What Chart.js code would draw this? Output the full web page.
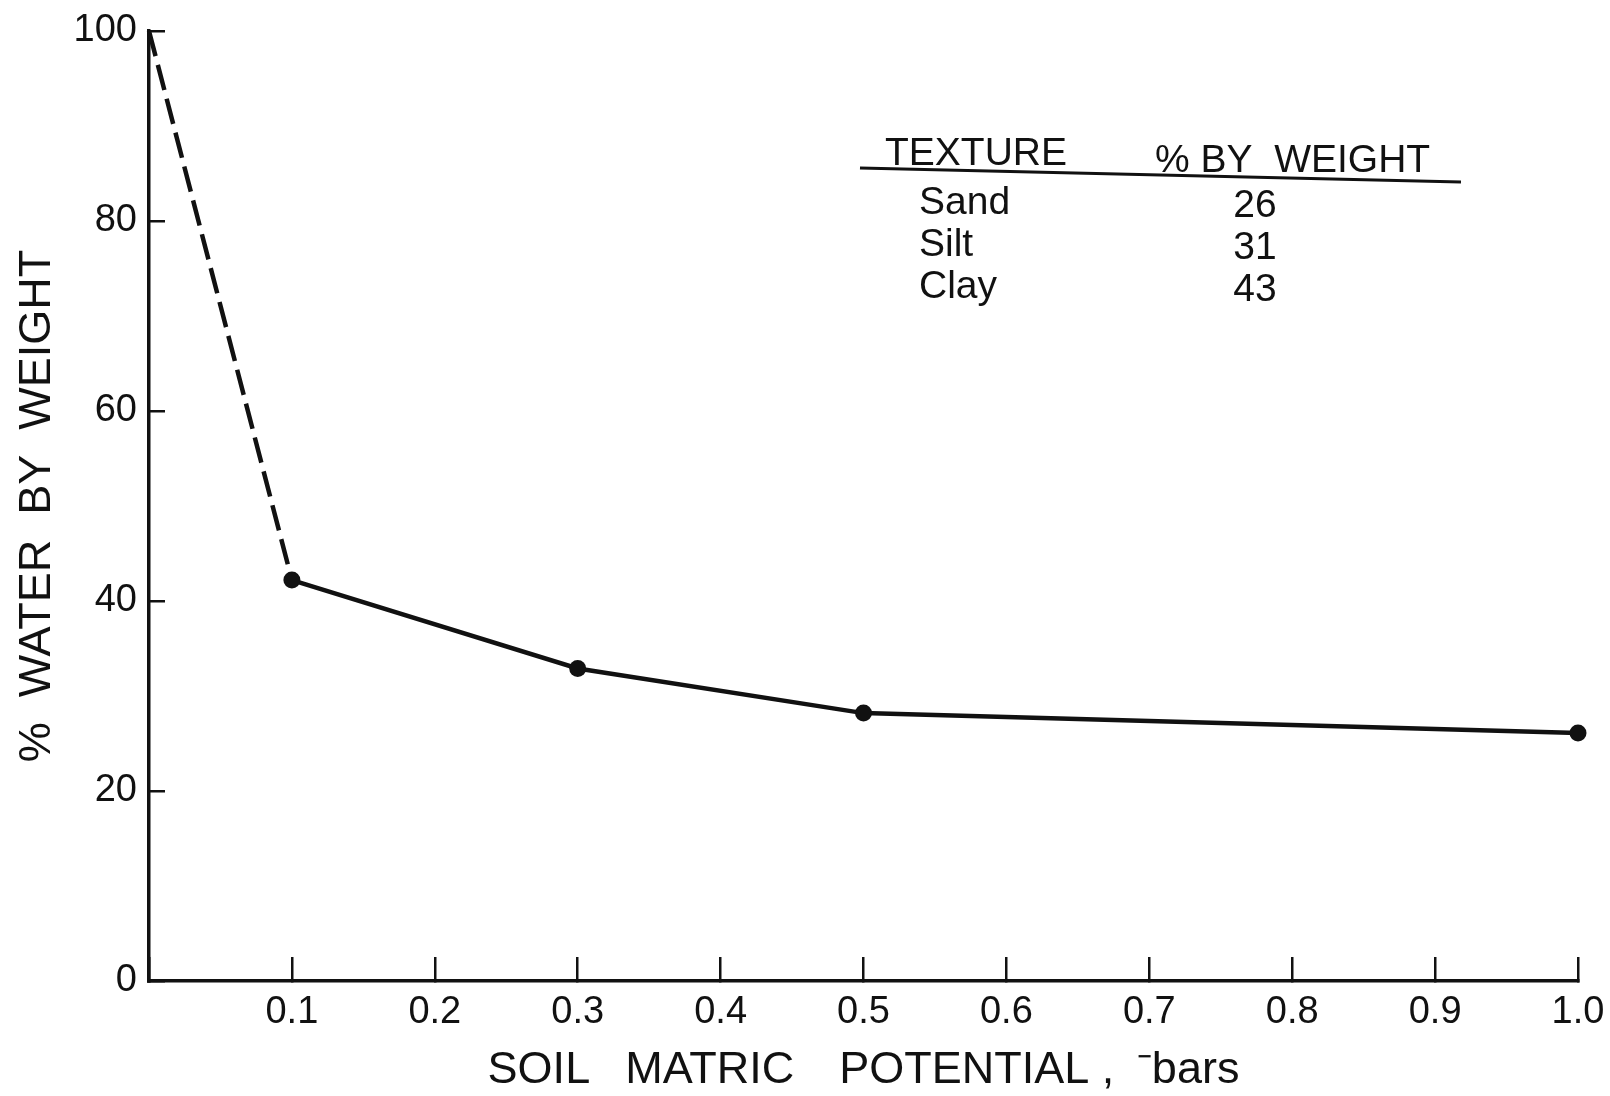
<!DOCTYPE html>
<html><head><meta charset="utf-8">
<script src="https://cdn.jsdelivr.net/npm/chart.js@4/dist/chart.umd.min.js"></script>
<style>html,body{margin:0;padding:0;background:#fff;}canvas{display:block;}</style>
</head><body>
<canvas id="c" width="1610" height="1096"></canvas>
<script>
// ---- data ----
const potentialBars = [0, 0.1, 0.3, 0.5, 1.0];
const waterPct = [100, 42.2, 32.9, 28.2, 26.1];
const xTickValues = [0, 0.1, 0.2, 0.3, 0.4, 0.5, 0.6, 0.7, 0.8, 0.9, 1.0];
const xTickLabels = ['', '0.1', '0.2', '0.3', '0.4', '0.5', '0.6', '0.7', '0.8', '0.9', '1.0'];
const yTickValues = [0, 20, 40, 60, 80, 100];
const yTickLabels = ['0', '20', '40', '60', '80', '100'];
const tableHeaders = ['TEXTURE', '% BY  WEIGHT'];
const textureNames = ['Sand', 'Silt', 'Clay'];
const texturePct = [26, 31, 43];
const xTitle = 'SOIL\u2002 MATRIC\u2002\u2002POTENTIAL ,\u2002\u207Bbars';
const yTitle = '%  WATER  BY  WEIGHT';

const INK = '#111';
const FONT = "'Liberation Sans', Arial, sans-serif";
Chart.defaults.font.family = FONT;
Chart.defaults.color = INK;

const tablePlugin = {
  id: 'textureTable',
  afterDraw(chart) {
    const ctx = chart.ctx;
    ctx.save();
    ctx.fillStyle = INK;
    ctx.strokeStyle = INK;
    ctx.font = '39px ' + FONT;
    ctx.textBaseline = 'middle';
    ctx.textAlign = 'left';
    ctx.fillText(tableHeaders[0], 885, 154);
    ctx.fillText(tableHeaders[1], 1155, 161);
    ctx.lineWidth = 3;
    ctx.beginPath();
    ctx.moveTo(860, 168);
    ctx.lineTo(1461, 182);
    ctx.stroke();
    const rowY = [203, 245, 287];
    textureNames.forEach((n, i) => {
      ctx.textAlign = 'left';
      ctx.fillText(n, 919, rowY[i]);
      ctx.textAlign = 'center';
      ctx.fillText(String(texturePct[i]), 1255, rowY[i] + 3);
    });
    ctx.restore();
  }
};

new Chart(document.getElementById('c'), {
  type: 'line',
  data: {
    datasets: [{
      data: potentialBars.map((x, i) => ({x: x, y: waterPct[i]})),
      borderColor: INK,
      backgroundColor: INK,
      borderWidth: 4.5,
      tension: 0,
      clip: false,
      pointRadius: waterPct.map((v, i) => i === 0 ? 0 : 8.5),
      pointBackgroundColor: INK,
      pointBorderWidth: 0,
      segment: {
        borderDash: c => c.p0DataIndex === 0 ? [26, 9] : undefined
      }
    }]
  },
  options: {
    responsive: false,
    animation: false,
    layout: {padding: {top: 31, right: 32, left: 0, bottom: 0}},
    plugins: {legend: {display: false}, tooltip: {enabled: false}},
    scales: {
      x: {
        type: 'linear', min: 0, max: 1,
        afterBuildTicks: s => { s.ticks = xTickValues.map(v => ({value: v})); },
        afterFit: s => { s.height = 115; s.paddingLeft = 0; s.paddingRight = 0; },
        ticks: {
          autoSkip: false, maxRotation: 0, padding: 33,
          font: {size: 38}, color: INK,
          callback: (v, i) => xTickLabels[i]
        },
        grid: {drawOnChartArea: false, tickLength: -24, lineWidth: 2.5, color: INK},
        border: {display: true, width: 3.5, color: INK},
        title: {display: true, text: xTitle, color: INK, font: {size: 45, lineHeight: 1}, padding: {top: 0, bottom: 3}}
      },
      y: {
        type: 'linear', min: 0, max: 100,
        afterBuildTicks: s => { s.ticks = yTickValues.map(v => ({value: v})); },
        afterFit: s => { s.width = 149; s.paddingTop = 0; s.paddingBottom = 0; },
        ticks: {
          padding: 28, font: {size: 38}, color: INK,
          callback: (v, i) => yTickLabels[i]
        },
        grid: {drawOnChartArea: false, tickLength: -16, lineWidth: 2.5, color: INK},
        border: {display: true, width: 3.5, color: INK},
        title: {display: true, text: yTitle, color: INK, font: {size: 45, lineHeight: 1}, padding: {top: 15, bottom: 0}}
      }
    }
  },
  plugins: [tablePlugin]
});
</script>
</body></html>
